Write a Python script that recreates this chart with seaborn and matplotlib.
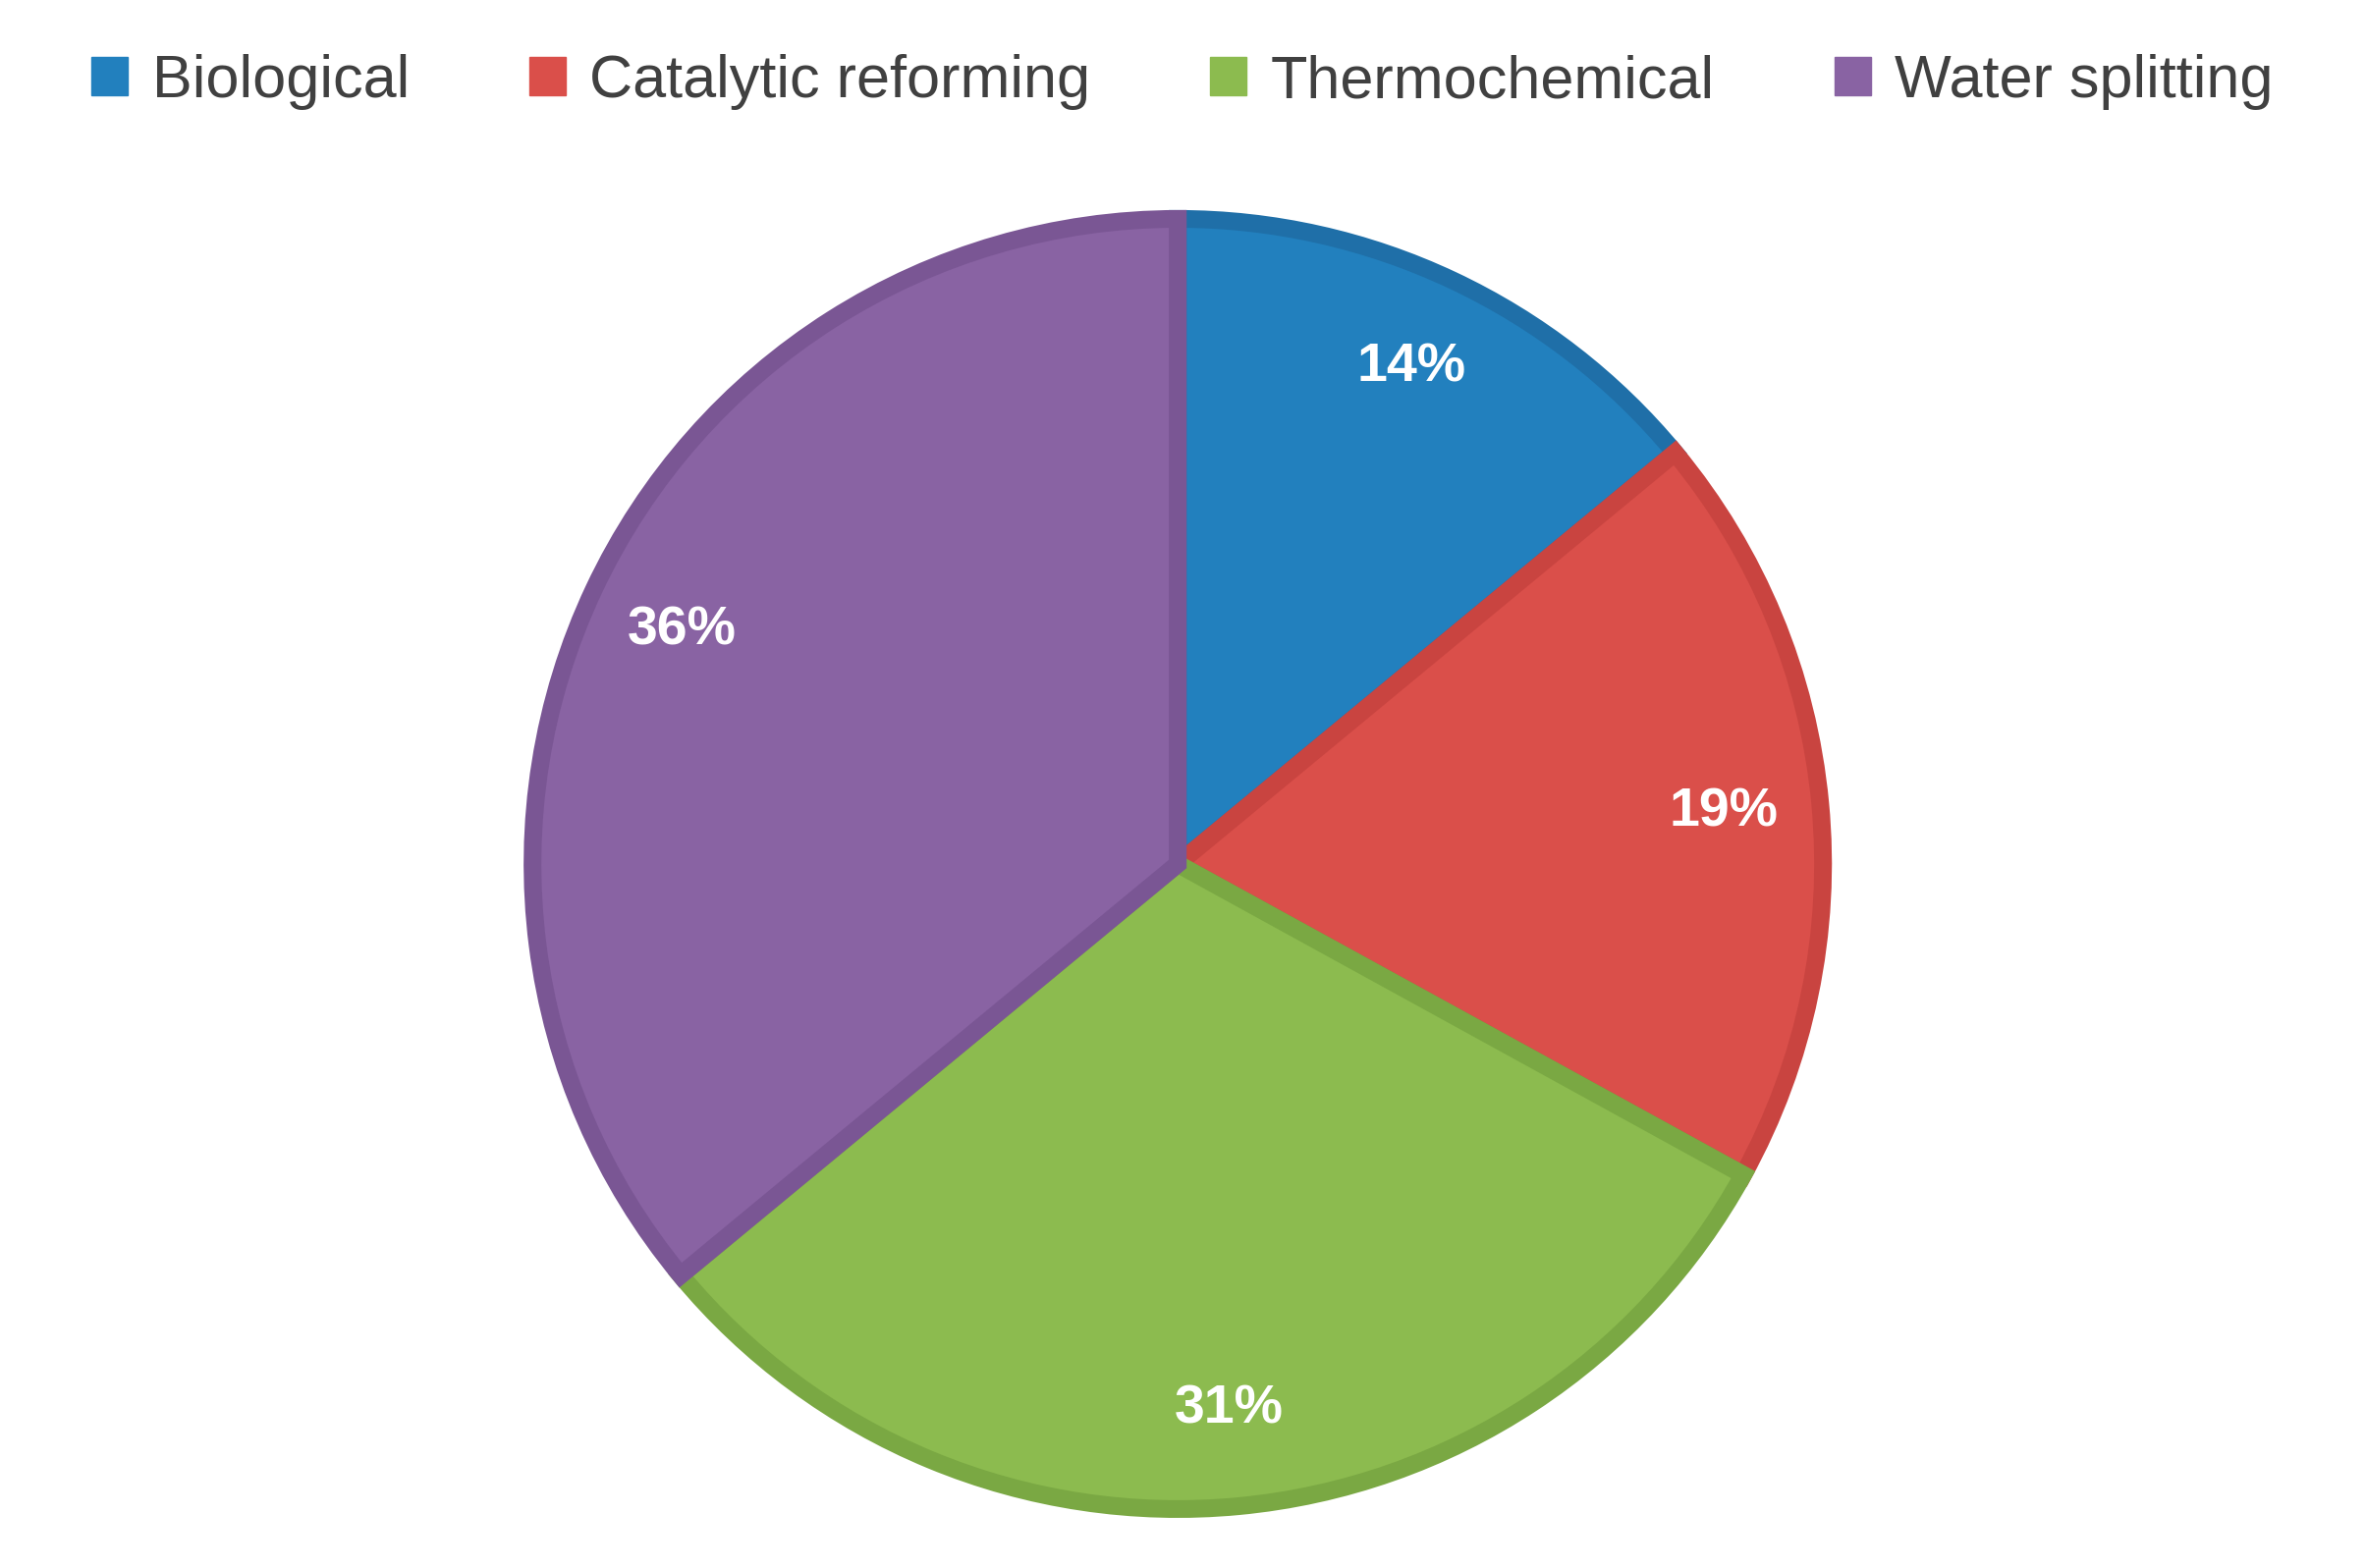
import matplotlib
matplotlib.use("Agg")
import matplotlib.pyplot as plt
import seaborn as sns

categories = ["Biological", "Catalytic reforming", "Thermochemical", "Water splitting"]
shares = [14, 19, 31, 36]
face_colors = ["#2280be", "#da4f4a", "#8cbb4f", "#8963a3"]
edge_colors = ["#1f6fa8", "#c94440", "#7aa843", "#7a5694"]

sns.set_theme(style="white")
plt.rcParams["font.family"] = ["Liberation Sans", "DejaVu Sans"]

fig = plt.figure(figsize=(24.08, 15.97), dpi=100)
cx, cy = 0.498, 0.449
rw, rh = 667 / 2408, 667 / 1597
ax = fig.add_axes([cx - rw, cy - rh, 2 * rw, 2 * rh])

wedges, _, autotexts = ax.pie(
    shares, colors=face_colors, startangle=90, counterclock=False,
    autopct="%d%%", pctdistance=0.85, radius=0.985,
    wedgeprops=dict(linewidth=13, joinstyle="miter"),
    textprops=dict(color="white", fontsize=40, fontweight="bold"),
)
for w, ec in zip(wedges, edge_colors):
    w.set_edgecolor(ec)
ax.set_aspect("equal")
ax.set_xlim(-1, 1)
ax.set_ylim(-1, 1)
ax.axis("off")

handles = [plt.Rectangle((0, 0), 1, 1, color=c) for c in face_colors]
fig.legend(handles, categories, loc="upper center", bbox_to_anchor=(0.5, 1.0),
           ncol=4, frameon=False, fontsize=44, handlelength=0.6, handleheight=0.6,
           handletextpad=0.4, columnspacing=2.0, labelcolor="#404040")

fig.savefig("out.png", dpi=100, facecolor="white")
